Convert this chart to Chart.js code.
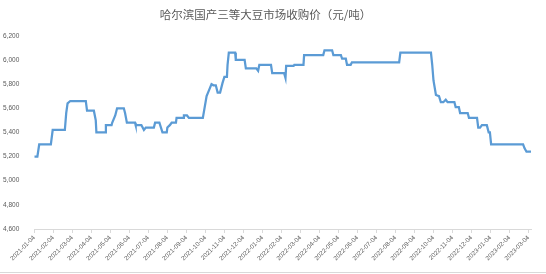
<!DOCTYPE html>
<html>
<head>
<meta charset="utf-8">
<script src="https://cdn.jsdelivr.net/npm/chart.js@4.4.1/dist/chart.umd.min.js"></script>
<style>
html,body{margin:0;padding:0;background:#fff;}
#wrap{width:546px;height:274px;position:relative;}
</style>
</head>
<body>
<div id="wrap"><canvas id="c" width="546" height="274"></canvas></div>
<script>
const chartTitle = '哈尔滨国产三等大豆市场收购价（元/吨）';

const tickLabels = [
  '2021-01-04','2021-02-04','2021-03-04','2021-04-04','2021-05-04','2021-06-04',
  '2021-07-04','2021-08-04','2021-09-04','2021-10-04','2021-11-04','2021-12-04',
  '2022-01-04','2022-02-04','2022-03-04','2022-04-04','2022-05-04','2022-06-04',
  '2022-07-04','2022-08-04','2022-09-04','2022-10-04','2022-11-04','2022-12-04',
  '2023-01-04','2023-02-04','2023-03-04'
];

const dates = [
  '2021-01-04','2021-01-09','2021-01-12','2021-01-31','2021-02-03','2021-02-21',
  '2021-02-23','2021-02-25','2021-03-01','2021-03-26','2021-03-28','2021-04-08',
  '2021-04-11','2021-04-12','2021-04-26','2021-04-27','2021-05-06','2021-05-07',
  '2021-05-12','2021-05-15','2021-05-26','2021-05-28','2021-05-31','2021-06-13',
  '2021-06-14','2021-06-23','2021-06-25','2021-06-27','2021-06-30','2021-07-13',
  '2021-07-15','2021-07-22','2021-07-27','2021-08-03','2021-08-04','2021-08-08',
  '2021-08-11','2021-08-18','2021-08-19','2021-08-30','2021-08-31','2021-09-05',
  '2021-09-08','2021-09-30','2021-10-06','2021-10-10','2021-10-14','2021-10-17',
  '2021-10-21','2021-10-24','2021-10-28','2021-11-01','2021-11-04','2021-11-08',
  '2021-11-09','2021-11-11','2021-11-21','2021-11-22','2021-12-06','2021-12-08',
  '2021-12-25','2021-12-28','2021-12-30','2022-01-18','2022-01-20','2022-02-08',
  '2022-02-10','2022-02-11','2022-02-22','2022-02-23','2022-03-09','2022-03-10',
  '2022-04-10','2022-04-12','2022-04-24','2022-04-26','2022-05-08','2022-05-10',
  '2022-05-16','2022-05-18','2022-05-24','2022-05-26','2022-08-10','2022-08-12',
  '2022-09-30','2022-10-02','2022-10-04','2022-10-08','2022-10-13','2022-10-16',
  '2022-10-20','2022-10-24','2022-10-27','2022-11-07','2022-11-09','2022-11-14',
  '2022-11-16','2022-11-28','2022-11-30','2022-12-13','2022-12-15','2022-12-18',
  '2022-12-21','2022-12-29','2023-01-01','2023-01-03','2023-01-05','2023-02-24',
  '2023-02-26','2023-03-01','2023-03-08'
];

const prices = [
  5200,5200,5300,5300,5420,5420,
  5560,5640,5660,5660,5580,5580,
  5500,5400,5400,5460,5460,5480,
  5540,5600,5600,5560,5480,5480,
  5460,5460,5440,5420,5440,5440,
  5480,5480,5400,5400,5440,5460,
  5480,5480,5520,5520,5540,5540,
  5520,5520,5700,5750,5800,5790,
  5790,5730,5730,5810,5860,5860,
  5960,6060,6060,6000,6000,5930,
  5930,5910,5960,5960,5890,5890,
  5850,5950,5950,5960,5960,6040,
  6040,6080,6080,6040,6040,6010,
  6010,5960,5960,5980,5980,6060,
  6060,5960,5830,5710,5700,5650,
  5650,5670,5650,5650,5610,5610,
  5560,5560,5520,5520,5440,5440,
  5460,5460,5400,5400,5300,5300,
  5270,5240,5240
];

// position of a date on a month axis whose ticks fall on the 4th of each month
function monthPos(s) {
  const [y, m, d] = s.split('-').map(Number);
  let k = (y - 2021) * 12 + (m - 1);
  const t = Date.UTC(y, m - 1, d);
  let start = Date.UTC(y, m - 1, 4), end = Date.UTC(y, m, 4);
  if (d < 4) { k -= 1; end = start; start = Date.UTC(y, m - 2, 4); }
  return k + (t - start) / (end - start);
}

const points = dates.map((d, i) => ({ x: monthPos(d), y: prices[i] }));

const bottomLine = {
  id: 'bottomLine',
  afterDraw(chart) {
    const ctx = chart.ctx;
    ctx.save();
    ctx.strokeStyle = '#d9d9d9';
    ctx.lineWidth = 1;
    ctx.beginPath();
    ctx.moveTo(0, 272.5);
    ctx.lineTo(chart.width, 272.5);
    ctx.stroke();
    ctx.restore();
  }
};

new Chart(document.getElementById('c'), {
  type: 'line',
  data: {
    datasets: [{
      data: points,
      borderColor: '#5B9BD5',
      borderWidth: 2.25,
      pointRadius: 0,
      tension: 0,
      fill: false
    }]
  },
  plugins: [bottomLine],
  options: {
    responsive: false,
    animation: false,
    layout: { padding: { left: 0, right: 15, top: 0, bottom: 0 } },
    plugins: {
      legend: { display: false },
      tooltip: { enabled: false },
      title: {
        display: true,
        text: chartTitle,
        color: '#595959',
        font: { family: '"Noto Sans CJK SC", sans-serif', size: 11.5, weight: 'normal' },
        padding: { top: 8, bottom: 14 }
      }
    },
    scales: {
      x: {
        type: 'linear',
        min: 0,
        max: 26.13,
        afterBuildTicks(axis) { axis.ticks = tickLabels.map((_, i) => ({ value: i })); },
        afterFit(axis) { axis.height = 45; },
        grid: { drawOnChartArea: false, drawTicks: true, tickLength: 4, color: '#d9d9d9' },
        border: { display: true, color: '#d9d9d9', width: 1 },
        ticks: {
          autoSkip: false,
          maxRotation: 45,
          minRotation: 45,
          padding: 1,
          color: '#595959',
          font: { family: '"Liberation Sans", sans-serif', size: 6.3 },
          callback: (v) => tickLabels[v] ?? ''
        }
      },
      y: {
        min: 4600,
        max: 6200,
        afterFit(axis) { axis.width = 34.3; },
        grid: { display: false, drawTicks: false },
        border: { display: false },
        ticks: {
          stepSize: 200,
          padding: 15,
          color: '#595959',
          font: { family: '"Liberation Sans", sans-serif', size: 6.5 },
          callback: (v) => v.toLocaleString('en-US')
        }
      }
    }
  }
});
</script>
</body>
</html>
